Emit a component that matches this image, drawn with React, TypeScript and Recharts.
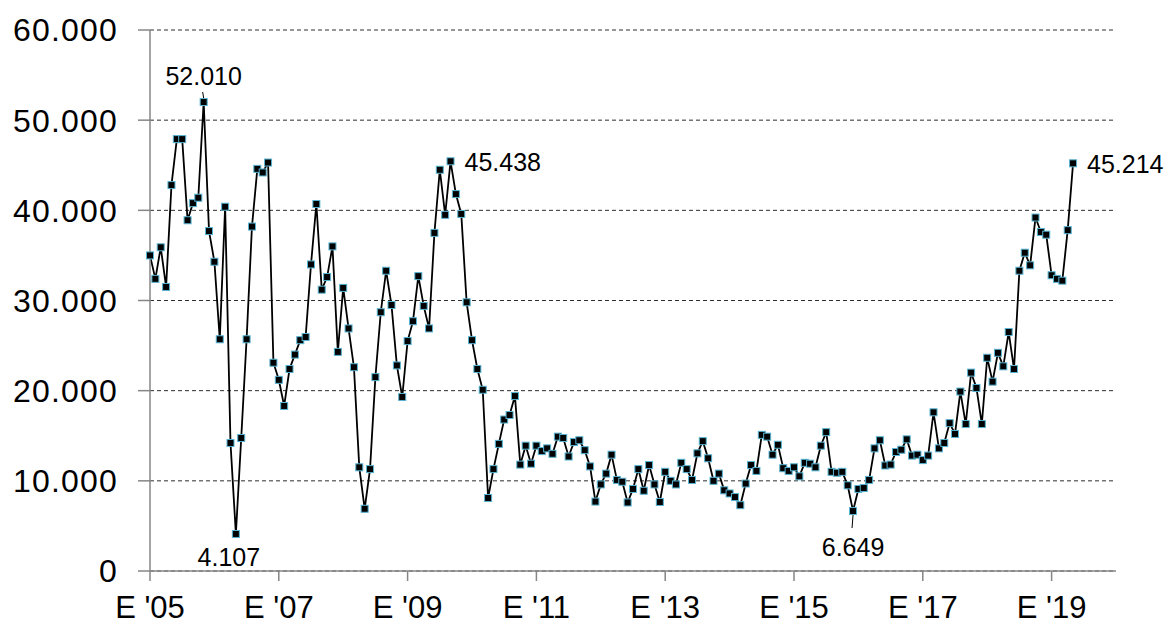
import React from 'react';
import { LineChart, Line, XAxis, YAxis, CartesianGrid } from 'recharts';

// monthly values, January 2005 .. May 2019
const Y2005 = [35000, 32400, 35900, 31500, 42800, 47900, 47900, 38900, 40800, 41400, 52010, 37700];
const Y2006 = [34300, 25700, 40400, 14200, 4107, 14750, 25700, 38200, 44600, 44200, 45300, 23100];
const Y2007 = [21200, 18300, 22400, 24000, 25600, 25950, 34000, 40700, 31200, 32600, 36000, 24300];
const Y2008 = [31400, 26900, 22600, 11500, 6900, 11300, 21500, 28700, 33300, 29500, 22800, 19300];
const Y2009 = [25500, 27700, 32700, 29400, 26900, 37500, 44500, 39500, 45438, 41800, 39600, 29800];
const Y2010 = [25600, 22400, 20100, 8100, 11300, 14100, 16800, 17300, 19400, 11800, 13900, 11900];
const Y2011 = [13900, 13300, 13600, 13000, 14900, 14750, 12700, 14300, 14500, 13400, 11600, 7700];
const Y2012 = [9600, 10800, 12900, 10100, 9900, 7600, 9100, 11300, 8900, 11750, 9600, 7650];
const Y2013 = [11000, 10000, 9600, 12000, 11300, 10100, 13050, 14400, 12500, 10000, 10800, 8950];
const Y2014 = [8600, 8200, 7300, 9700, 11750, 11100, 15100, 14900, 12900, 14000, 11400, 11100];
const Y2015 = [11500, 10500, 12000, 11900, 11500, 13900, 15400, 11000, 10900, 11000, 9500, 6649];
const Y2016 = [9100, 9200, 10100, 13600, 14500, 11700, 11800, 13200, 13450, 14600, 12800, 12900];
const Y2017 = [12300, 12800, 17600, 13600, 14200, 16400, 15200, 19900, 16300, 22000, 20300, 16300];
const Y2018 = [23650, 21000, 24200, 22700, 26500, 22400, 33300, 35300, 33900, 39200, 37600, 37300];
const Y2019 = [32800, 32400, 32200, 37800, 45214];

const X_TICKS = [0, 24, 48, 72, 96, 120, 144, 168];
const X_TICK_LABELS = ["E '05", "E '07", "E '09", "E '11", "E '13", "E '15", "E '17", "E '19"];
const Y_TICKS = [0, 10000, 20000, 30000, 40000, 50000, 60000];

// annotated points: month index, text, placement
const ANNOTATIONS = [
  { index: 10, text: '52.010', pos: 'top' },
  { index: 16, text: '4.107', pos: 'bottom' },
  { index: 56, text: '45.438', pos: 'right' },
  { index: 131, text: '6.649', pos: 'bottomLeader' },
  { index: 172, text: '45.214', pos: 'right' },
];

const values = [
  ...Y2005, ...Y2006, ...Y2007, ...Y2008, ...Y2009, ...Y2010, ...Y2011,
  ...Y2012, ...Y2013, ...Y2014, ...Y2015, ...Y2016, ...Y2017, ...Y2018, ...Y2019,
];
const data = values.map((v, i) => ({ m: i, v }));

const FONT = '"Liberation Sans", Arial, sans-serif';
const AXIS_COLOR = '#868686';

const fmtThousands = (v: number) => (v === 0 ? '0' : `${v / 1000}.000`);

const SquareDot = (props: any) => {
  const { cx, cy, index } = props;
  if (cx == null || cy == null) return null;
  return (
    <rect key={`d${index}`} x={cx - 3.5} y={cy - 3.5} width={7} height={7}
      fill="#000" stroke="#56b4d3" strokeWidth={1} />
  );
};

const PointLabel = (props: any) => {
  const { x, y, index } = props;
  const a = ANNOTATIONS.find(n => n.index === index);
  if (!a || x == null || y == null) return null;
  const t = { fontFamily: FONT, fontSize: 25, fill: '#000' };
  if (a.pos === 'top') {
    return (
      <g>
        <line x1={x} y1={y - 4} x2={x - 1} y2={y - 10} stroke="#000" strokeWidth={1} />
        <text x={x} y={y - 17} textAnchor="middle" {...t}>{a.text}</text>
      </g>
    );
  }
  if (a.pos === 'bottom') {
    return <text x={x - 7} y={y + 32} textAnchor="middle" {...t}>{a.text}</text>;
  }
  if (a.pos === 'bottomLeader') {
    return (
      <g>
        <line x1={x} y1={y + 4} x2={x - 1} y2={y + 17} stroke="#000" strokeWidth={1} />
        <text x={x} y={y + 45} textAnchor="middle" {...t}>{a.text}</text>
      </g>
    );
  }
  return <text x={x + 14} y={y + 10} textAnchor="start" {...t}>{a.text}</text>;
};

export default function App() {
  return (
    <div style={{ position: 'absolute', left: 0, top: 0, background: '#fff' }}>
      <LineChart width={1168} height={627} data={data}
        margin={{ top: 30, right: 52, left: 0, bottom: 0 }}>
        <CartesianGrid vertical={false} stroke="#2e2e2e" strokeDasharray="4 3" />
        <XAxis
          type="number"
          dataKey="m"
          domain={[0, 180]}
          ticks={X_TICKS}
          tickFormatter={(v: number) => X_TICK_LABELS[X_TICKS.indexOf(v)] ?? ''}
          height={56}
          stroke={AXIS_COLOR}
          strokeWidth={1.5}
          tickSize={10}
          tickMargin={15}
          tick={{ fill: '#000', fontSize: 31, fontFamily: FONT }}
          interval={0}
        />
        <YAxis
          type="number"
          domain={[0, 60000]}
          ticks={Y_TICKS}
          tickFormatter={fmtThousands}
          width={150}
          stroke={AXIS_COLOR}
          strokeWidth={1.5}
          tickSize={12}
          tickMargin={20}
          tick={{ fill: '#000', fontSize: 32, fontFamily: FONT, letterSpacing: 1.2 }}
          interval={0}
        />
        <Line
          type="linear"
          dataKey="v"
          stroke="#000"
          strokeWidth={1.8}
          dot={<SquareDot />}
          activeDot={false}
          label={<PointLabel />}
          isAnimationActive={false}
        />
      </LineChart>
    </div>
  );
}
